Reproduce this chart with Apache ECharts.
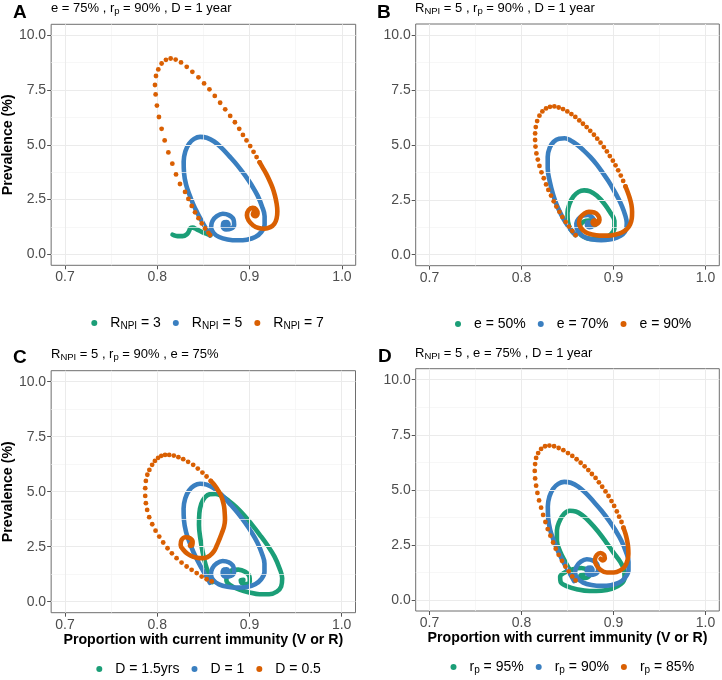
<!DOCTYPE html>
<html><head><meta charset="utf-8">
<script src="https://cdn.jsdelivr.net/npm/echarts@6/dist/echarts.min.js"></script>
<style>html,body{margin:0;padding:0;background:#fff}#c{width:722px;height:680px}</style>
</head><body><div id="c"></div>
<script>
// ---------- axes ----------
const xTicks = [0.7, 0.8, 0.9, 1.0];
const yTicks = [0, 2.5, 5, 7.5, 10];
const xMinor = [0.75, 0.85, 0.95];
const yMinor = [1.25, 3.75, 6.25, 8.75];
const xRange = [0.685, 1.015];
const yRange = [-0.5, 10.5];

// ---------- legends ----------
const legendA = ['R_NPI = 3', 'R_NPI = 5', 'R_NPI = 7'];
const legendB = ['e = 50%', 'e = 70%', 'e = 90%'];
const legendC = ['D = 1.5yrs', 'D = 1', 'D = 0.5'];
const legendD = ['r_p = 95%', 'r_p = 90%', 'r_p = 85%'];

const subA = '{t|e = 75% , r}{u|p}{t| = 90% , D = 1 year}';
const subB = '{t|R}{u|NPI}{t| = 5 , r}{u|p}{t| = 90% , D = 1 year}';
const subC = '{t|R}{u|NPI}{t| = 5 , r}{u|p}{t| = 90% , e = 75%}';
const subD = '{t|R}{u|NPI}{t| = 5 , e = 75% , D = 1 year}';

// ---------- data: [immunity, prevalence %] ----------
// baseline scenario (R_NPI=5, e=75%, rp=90%, D=1 year) – blue in A, C, D
const baseBlue = [[0.8572,0.86],[0.8529,1.17],[0.8482,1.52],[0.8435,1.89],[0.8391,2.27],[0.8348,2.73],[0.8312,3.18],[0.8290,3.71],[0.8286,4.24],[0.8304,4.70],[0.8344,5.05],[0.8399,5.27],[0.8464,5.36],[0.8536,5.32],[0.8616,5.15],[0.8699,4.85],[0.8783,4.47],[0.8870,4.05],[0.8953,3.59],[0.9025,3.14],[0.9087,2.68],[0.9134,2.20],[0.9163,1.74],[0.9163,1.35],[0.9127,1.02],[0.9062,0.79],[0.8971,0.67],[0.8870,0.64],[0.8761,0.68],[0.8670,0.79],[0.8609,0.98],[0.8583,1.24],[0.8598,1.52],[0.8645,1.74],[0.8710,1.85],[0.8775,1.79],[0.8826,1.59],[0.8833,1.35],[0.8797,1.17],[0.8746,1.14],[0.8710,1.26],[0.8717,1.44],[0.8754,1.47],[0.8772,1.35],[0.8746,1.32]];

// Panel A
const aGreen = [[0.8578,0.88],[0.8536,0.94],[0.8482,1.03],[0.8428,1.14],[0.8384,1.22],[0.8360,1.20],[0.8344,1.06],[0.8319,0.91],[0.8275,0.83],[0.8221,0.83],[0.8180,0.87],[0.8165,0.90]];
const aOrangeDots = [[0.8572,0.88],[0.8554,0.98],[0.8518,1.18],[0.8482,1.41],[0.8446,1.65],[0.8409,1.92],[0.8373,2.21],[0.8337,2.53],[0.8301,2.85],[0.8246,3.21],[0.8203,3.65],[0.8163,4.14],[0.8120,4.65],[0.8080,5.20],[0.8047,5.73],[0.8018,6.27],[0.7996,6.79],[0.7982,7.30],[0.7975,7.73],[0.7986,8.14],[0.8011,8.44],[0.8047,8.71],[0.8094,8.88],[0.8145,8.94],[0.8199,8.89],[0.8257,8.76],[0.8319,8.56],[0.8380,8.33],[0.8446,8.08],[0.8507,7.80],[0.8565,7.53],[0.8623,7.23],[0.8681,6.92],[0.8736,6.62],[0.8790,6.32],[0.8841,6.03],[0.8888,5.73],[0.8928,5.45],[0.8967,5.20],[0.9007,4.94],[0.9043,4.68],[0.9076,4.44],[0.9109,4.20]];
const aOrangeLine = [[0.9109,4.20],[0.9145,3.94],[0.9181,3.67],[0.9217,3.36],[0.9250,3.03],[0.9275,2.68],[0.9293,2.32],[0.9301,1.97],[0.9293,1.64],[0.9268,1.39],[0.9225,1.24],[0.9163,1.17],[0.9098,1.20],[0.9036,1.33],[0.8989,1.55],[0.8971,1.79],[0.8989,2.02],[0.9033,2.12],[0.9072,2.05],[0.9087,1.86],[0.9062,1.74],[0.9036,1.83],[0.9043,1.92]];

// Panel B
const bGreen = [[0.8585,0.90],[0.8535,1.15],[0.8505,1.50],[0.8500,1.90],[0.8520,2.30],[0.8565,2.65],[0.8620,2.86],[0.8680,2.93],[0.8745,2.88],[0.8820,2.68],[0.8900,2.32],[0.8965,1.92],[0.9010,1.55],[0.9010,1.20],[0.8970,0.92],[0.8900,0.76],[0.8800,0.71],[0.8705,0.76],[0.8640,0.92],[0.8620,1.15],[0.8645,1.40],[0.8700,1.55],[0.8765,1.57],[0.8805,1.45],[0.8790,1.32],[0.8750,1.30],[0.8740,1.38],[0.8760,1.42]];
const bBlue = [[0.8588,0.89],[0.8531,1.16],[0.8480,1.46],[0.8433,1.81],[0.8386,2.23],[0.8343,2.75],[0.8307,3.33],[0.8285,3.93],[0.8285,4.46],[0.8307,4.87],[0.8350,5.14],[0.8408,5.28],[0.8469,5.30],[0.8534,5.20],[0.8603,5.01],[0.8675,4.75],[0.8747,4.45],[0.8819,4.10],[0.8884,3.72],[0.8946,3.34],[0.9000,2.96],[0.9051,2.57],[0.9094,2.19],[0.9126,1.81],[0.9144,1.46],[0.9137,1.16],[0.9101,0.93],[0.9036,0.78],[0.8957,0.69],[0.8866,0.66],[0.8776,0.69],[0.8697,0.78],[0.8639,0.95],[0.8603,1.17],[0.8596,1.43],[0.8621,1.64],[0.8668,1.78],[0.8722,1.81],[0.8769,1.70],[0.8791,1.51],[0.8776,1.33],[0.8740,1.25],[0.8711,1.34],[0.8722,1.48],[0.8751,1.45],[0.8744,1.37]];
const bOrangeDots = [[0.8588,0.89],[0.8552,1.08],[0.8516,1.28],[0.8480,1.49],[0.8444,1.72],[0.8412,1.95],[0.8379,2.19],[0.8350,2.43],[0.8321,2.69],[0.8292,2.95],[0.8267,3.20],[0.8242,3.48],[0.8217,3.75],[0.8195,4.04],[0.8177,4.33],[0.8162,4.61],[0.8152,4.92],[0.8148,5.22],[0.8148,5.52],[0.8155,5.81],[0.8170,6.08],[0.8195,6.33],[0.8227,6.52],[0.8267,6.66],[0.8310,6.73],[0.8357,6.75],[0.8404,6.70],[0.8451,6.63],[0.8498,6.52],[0.8542,6.40],[0.8585,6.27],[0.8628,6.11],[0.8668,5.96],[0.8708,5.81],[0.8747,5.64],[0.8787,5.46],[0.8823,5.28],[0.8859,5.10],[0.8895,4.90],[0.8928,4.70],[0.8960,4.49],[0.8993,4.28],[0.9022,4.07],[0.9051,3.84],[0.9079,3.60],[0.9105,3.36],[0.9130,3.11]];
const bOrangeLine = [[0.9130,3.11],[0.9155,2.84],[0.9177,2.57],[0.9195,2.27],[0.9202,1.96],[0.9199,1.66],[0.9181,1.39],[0.9144,1.16],[0.9090,1.01],[0.9022,0.92],[0.8939,0.87],[0.8848,0.87],[0.8765,0.92],[0.8697,1.02],[0.8646,1.22],[0.8625,1.46],[0.8639,1.69],[0.8679,1.86],[0.8733,1.95],[0.8791,1.92],[0.8834,1.78],[0.8848,1.58],[0.8830,1.43],[0.8794,1.37],[0.8773,1.48],[0.8791,1.57],[0.8809,1.51]];

// Panel C
const cGreen = [[0.8598,0.89],[0.8562,1.22],[0.8525,1.67],[0.8493,2.25],[0.8467,2.89],[0.8453,3.49],[0.8457,4.02],[0.8478,4.45],[0.8518,4.75],[0.8572,4.89],[0.8630,4.90],[0.8696,4.81],[0.8772,4.60],[0.8855,4.31],[0.8942,3.93],[0.9029,3.49],[0.9116,3.02],[0.9199,2.54],[0.9272,2.05],[0.9326,1.52],[0.9355,1.07],[0.9344,0.69],[0.9297,0.46],[0.9214,0.34],[0.9109,0.34],[0.9000,0.42],[0.8891,0.55],[0.8801,0.73],[0.8750,0.98],[0.8757,1.23],[0.8808,1.42],[0.8880,1.46],[0.8953,1.36],[0.9000,1.14],[0.9004,0.92],[0.8964,0.80],[0.8917,0.84],[0.8906,0.98],[0.8935,0.99]];
const cOrangeDots = [[0.8591,0.92],[0.8536,1.02],[0.8482,1.14],[0.8428,1.30],[0.8373,1.45],[0.8319,1.60],[0.8264,1.78],[0.8210,1.98],[0.8159,2.20],[0.8112,2.43],[0.8065,2.69],[0.8022,2.96],[0.7982,3.23],[0.7946,3.52],[0.7913,3.84],[0.7891,4.17],[0.7877,4.48],[0.7870,4.81],[0.7870,5.16],[0.7877,5.49],[0.7893,5.77],[0.7915,5.99],[0.7945,6.22],[0.7975,6.40],[0.8010,6.54],[0.8045,6.63],[0.8085,6.67],[0.8130,6.67],[0.8180,6.64],[0.8230,6.57],[0.8282,6.48],[0.8335,6.36],[0.8390,6.22],[0.8440,6.05],[0.8490,5.87],[0.8535,5.69],[0.8580,5.49]];
const cOrangeLine = [[0.8580,5.49],[0.8622,5.30],[0.8657,5.08],[0.8688,4.86],[0.8710,4.60],[0.8725,4.33],[0.8732,4.02],[0.8735,3.72],[0.8725,3.42],[0.8700,3.11],[0.8672,2.81],[0.8645,2.54],[0.8616,2.30],[0.8572,2.10],[0.8518,1.99],[0.8457,1.98],[0.8391,2.04],[0.8330,2.17],[0.8283,2.36],[0.8254,2.58],[0.8264,2.81],[0.8308,2.93],[0.8355,2.89],[0.8384,2.73],[0.8380,2.57],[0.8355,2.54],[0.8366,2.63]];

// Panel D
const dGreen = [[0.8588,0.89],[0.8540,1.25],[0.8480,1.70],[0.8420,2.20],[0.8385,2.70],[0.8385,3.15],[0.8410,3.55],[0.8460,3.90],[0.8525,4.05],[0.8590,4.02],[0.8660,3.85],[0.8740,3.55],[0.8830,3.12],[0.8920,2.62],[0.9000,2.15],[0.9070,1.75],[0.9115,1.35],[0.9120,1.00],[0.9080,0.72],[0.8990,0.52],[0.8870,0.42],[0.8740,0.41],[0.8610,0.48],[0.8490,0.63],[0.8425,0.82],[0.8420,1.05],[0.8470,1.25],[0.8560,1.40],[0.8650,1.45],[0.8720,1.35],[0.8740,1.15],[0.8700,1.00],[0.8650,1.00],[0.8640,1.10],[0.8675,1.15]];
const dOrangeDots = [[0.8588,0.89],[0.8552,1.07],[0.8513,1.30],[0.8477,1.52],[0.8440,1.78],[0.8404,2.05],[0.8372,2.33],[0.8343,2.61],[0.8314,2.92],[0.8285,3.22],[0.8260,3.54],[0.8235,3.86],[0.8213,4.19],[0.8191,4.52],[0.8173,4.86],[0.8159,5.19],[0.8148,5.52],[0.8144,5.86],[0.8148,6.17],[0.8159,6.45],[0.8181,6.67],[0.8213,6.86],[0.8256,6.98],[0.8303,7.01],[0.8354,6.98],[0.8404,6.90],[0.8455,6.80],[0.8505,6.67],[0.8552,6.54],[0.8599,6.39],[0.8643,6.23],[0.8686,6.07],[0.8726,5.90],[0.8765,5.72],[0.8805,5.54],[0.8841,5.34],[0.8877,5.14],[0.8913,4.93],[0.8946,4.72],[0.8978,4.49],[0.9007,4.27],[0.9036,4.02],[0.9061,3.78],[0.9087,3.54],[0.9108,3.28]];
const dOrangeLine = [[0.9108,3.28],[0.9130,3.01],[0.9148,2.70],[0.9159,2.40],[0.9162,2.10],[0.9152,1.80],[0.9123,1.52],[0.9072,1.34],[0.9004,1.25],[0.8928,1.25],[0.8859,1.37],[0.8812,1.60],[0.8798,1.83],[0.8819,2.04],[0.8859,2.13],[0.8895,2.05],[0.8906,1.90],[0.8884,1.80],[0.8859,1.87]];

// ---------- styling ----------
const COLORS = ['#1b9e77', '#3a7fc0', '#d95f02'];
const FONT = 'Liberation Sans, Arial, sans-serif';
const richStyle = {
  n: {fontSize: 14, lineHeight: 16, color: '#000', fontFamily: FONT, fontWeight: 'normal', verticalAlign: 'middle'},
  s: {fontSize: 10, lineHeight: 8, color: '#000', fontFamily: FONT, fontWeight: 'normal', verticalAlign: 'bottom'},
  t: {fontSize: 13, lineHeight: 16, color: '#000', fontFamily: FONT, fontWeight: 'normal', verticalAlign: 'middle'},
  u: {fontSize: 9.5, lineHeight: 8, color: '#000', fontFamily: FONT, fontWeight: 'normal', verticalAlign: 'bottom'}
};
function fmtName(name) {
  const m = name.match(/^([A-Za-z])_([A-Za-z]+)(.*)$/);
  return m ? '{n|' + m[1] + '}{s|' + m[2] + '}{n|' + m[3] + '}' : '{n|' + name + '}';
}

const grids = [
  {left: 51, top: 24.3, width: 304.7, height: 241},
  {left: 415.7, top: 24, width: 303.6, height: 241.7},
  {left: 51, top: 370.7, width: 304.5, height: 242},
  {left: 415.7, top: 368.7, width: 303.6, height: 242.3}
];

const panels = [
  {legend: legendA, curves: [{line: aGreen}, {line: baseBlue}, {dots: aOrangeDots, line: aOrangeLine}]},
  {legend: legendB, curves: [{line: bGreen}, {line: bBlue}, {dots: bOrangeDots, line: bOrangeLine}]},
  {legend: legendC, curves: [{line: cGreen}, {line: baseBlue}, {dots: cOrangeDots, line: cOrangeLine}]},
  {legend: legendD, curves: [{line: dGreen}, {line: baseBlue}, {dots: dOrangeDots, line: dOrangeLine}]}
];

const titleFont = {fontWeight: 'bold', fontSize: 14.2, color: '#000', fontFamily: FONT};
const xAxes = [], yAxes = [], series = [];
grids.forEach((g, i) => {
  xAxes.push({
    gridIndex: i, type: 'value', min: xRange[0], max: xRange[1],
    axisLine: {show: false, onZero: false}, splitLine: {show: false},
    axisTick: {show: true, customValues: xTicks, length: 4, lineStyle: {color: '#555'}},
    axisLabel: {customValues: xTicks, formatter: v => v.toFixed(1), fontSize: 14, color: '#4d4d4d', margin: 5, fontFamily: FONT},
    name: i >= 2 ? 'Proportion with current immunity (V or R)' : '',
    nameLocation: 'middle', nameGap: 19,
    nameTextStyle: titleFont
  });
  yAxes.push({
    gridIndex: i, type: 'value', min: yRange[0], max: yRange[1],
    axisLine: {show: false, onZero: false}, splitLine: {show: false},
    axisTick: {show: true, customValues: yTicks, length: 4, lineStyle: {color: '#555'}},
    axisLabel: {customValues: yTicks, formatter: v => v.toFixed(1), fontSize: 14, color: '#4d4d4d', margin: 5, fontFamily: FONT},
    name: i % 2 === 0 ? 'Prevalence (%)' : '',
    nameLocation: 'middle', nameGap: 35.5,
    nameTextStyle: titleFont
  });
  // gridlines
  const mj = {color: '#ebebeb', width: 1, type: 'solid'};
  const mn = {color: '#f3f3f3', width: 0.7, type: 'solid'};
  series.push({
    type: 'line', xAxisIndex: i, yAxisIndex: i, data: [], silent: true, z: 1,
    markLine: {
      silent: true, symbol: ['none', 'none'], label: {show: false}, animation: false,
      data: [
        ...xMinor.map(v => ({xAxis: v, lineStyle: mn})),
        ...yMinor.map(v => ({yAxis: v, lineStyle: mn})),
        ...xTicks.map(v => ({xAxis: v, lineStyle: mj})),
        ...yTicks.map(v => ({yAxis: v, lineStyle: mj}))
      ]
    }
  });
  panels[i].curves.forEach((c, k) => {
    const name = panels[i].legend[k];
    const col = COLORS[k];
    if (c.dots) {
      series.push({
        type: 'scatter', name, xAxisIndex: i, yAxisIndex: i, data: c.dots,
        symbol: 'circle', symbolSize: 4.8, itemStyle: {color: col, opacity: 1}, z: 3 + k, silent: true
      });
    }
    series.push({
      type: 'line', name, xAxisIndex: i, yAxisIndex: i, data: c.line,
      showSymbol: false, symbol: 'none', smooth: 0.4,
      lineStyle: {width: 4.6, color: col, cap: 'round', join: 'round'},
      itemStyle: {color: col}, z: 3 + k, silent: true
    });
  });
});

const legendPos = [
  {left: 91.3, top: 316},
  {left: 455, top: 317},
  {left: 96.3, top: 662},
  {left: 450.5, top: 660}
];
const legends = panels.map((p, i) => ({
  data: p.legend.map(n => ({name: n, icon: 'circle'})),
  left: legendPos[i].left, top: legendPos[i].top, orient: 'horizontal',
  itemWidth: 22, itemHeight: 6, itemGap: 12, padding: 0, selectedMode: false,
  formatter: fmtName,
  textStyle: {fontSize: 14, color: '#000', fontFamily: FONT, rich: richStyle}
}));

const letterStyle = {fontSize: 19, fontWeight: 'bold', color: '#000', fontFamily: FONT};
const subStyle = {fontWeight: 'normal', rich: richStyle};
const titles = [
  {text: 'A', left: 13, top: 3, padding: 0, textStyle: letterStyle},
  {text: subA, left: 51, top: 0, padding: 0, textStyle: subStyle},
  {text: 'B', left: 377, top: 3, padding: 0, textStyle: letterStyle},
  {text: subB, left: 415, top: 0, padding: 0, textStyle: subStyle},
  {text: 'C', left: 13, top: 348, padding: 0, textStyle: letterStyle},
  {text: subC, left: 51, top: 346, padding: 0, textStyle: subStyle},
  {text: 'D', left: 378, top: 347, padding: 0, textStyle: letterStyle},
  {text: subD, left: 415, top: 345, padding: 0, textStyle: subStyle}
];

const chart = echarts.init(document.getElementById('c'), null, {renderer: 'canvas'});
chart.setOption({
  animation: false,
  backgroundColor: '#fff',
  textStyle: {fontFamily: FONT},
  title: titles,
  legend: legends,
  grid: grids.map(g => Object.assign({show: true, borderColor: '#6e6e6e', borderWidth: 1, containLabel: false}, g)),
  xAxis: xAxes,
  yAxis: yAxes,
  series
});
</script></body></html>
